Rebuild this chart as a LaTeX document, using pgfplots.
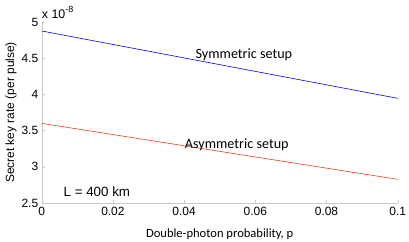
\documentclass[border=0pt]{standalone}
\usepackage{fontspec}
\setmainfont{Carlito}
\newfontfamily\arialf{Liberation Sans}
\usepackage{pgfplots}
\pgfplotsset{compat=1.18}
\definecolor{asym}{RGB}{235,65,30}
\begin{document}
\begin{tikzpicture}
\useasboundingbox (-41.7bp,-39bp) rectangle (367.3bp,203bp);
\begin{axis}[
  scale only axis,
  width=356bp, height=181bp,
  xmin=0, xmax=0.1, ymin=2.5, ymax=5,
  xtick={0,0.02,0.04,0.06,0.08,0.1},
  ytick={2.5,3,3.5,4,4.5,5},
  xticklabels={0,0.02,0.04,0.06,0.08,0.1},
  yticklabels={2.5,3,3.5,4,4.5,5},
  axis lines=left,
  axis line style={-, draw=black!22},
  tick style={draw=black!22},
  tick align=inside,
  major tick length=3bp,
  ticklabel style={font=\arialf\fontsize{12}{14}\selectfont, text=black},
  xticklabel style={yshift=-1bp},
  xlabel={Double-photon probability, p},
  ylabel={Secret key rate (per pulse)},
  xlabel style={font=\fontsize{12.6}{14}\selectfont, yshift=-6bp},
  ylabel style={font=\arialf\fontsize{12}{14}\selectfont, yshift=-2bp},
  clip=false,
]
\addplot[blue, line width=0.6bp] coordinates {(0,4.876) (0.1,3.946)};
\addplot[asym, line width=0.6bp] coordinates {(0,3.60) (0.1,2.827)};
\node[font=\fontsize{14.2}{16}\selectfont] at (axis cs:0.0568,4.544) {Symmetric setup};
\node[font=\fontsize{14.2}{16}\selectfont] at (axis cs:0.0548,3.31) {Asymmetric setup};
\node[font=\arialf\fontsize{13.4}{15}\selectfont] at (axis cs:0.0155,2.652) {L = 400 km};
\node[font=\arialf\fontsize{12.5}{14}\selectfont, anchor=base west, inner sep=0pt] at (axis cs:0,5) [yshift=3bp] {x 10\raisebox{6bp}{\fontsize{9}{10}\selectfont -8}};
\end{axis}
\end{tikzpicture}
\end{document}
